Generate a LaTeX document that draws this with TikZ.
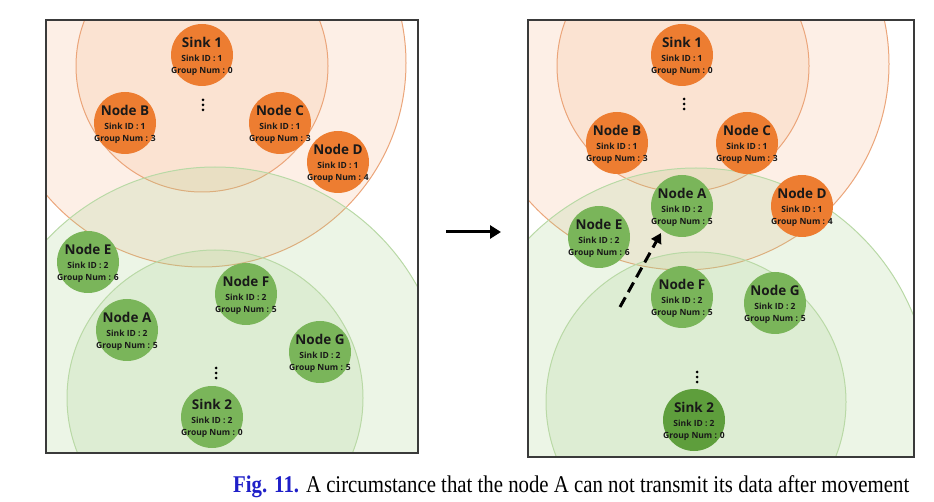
\documentclass[tikz,border=0pt]{standalone}
\usepackage{fontspec}
\usepackage{graphicx}
\setmainfont{Liberation Serif}
\newfontfamily\lblfont{Open Sans}
\usetikzlibrary{arrows.meta}
\definecolor{orfill}{HTML}{F4B183}
\definecolor{orline}{HTML}{EBA57A}
\definecolor{grfill}{HTML}{A9D18E}
\definecolor{grline}{HTML}{B9D9A6}
\definecolor{ornode}{HTML}{ED7D31}
\definecolor{grnode}{HTML}{7AB55A}
\definecolor{grnodedark}{HTML}{5E9E3C}
\definecolor{figblue}{HTML}{1F1FC8}
\definecolor{framegray}{HTML}{3A3A3A}
\newcommand\nlbl[3]{\fontsize{13.5}{14}\selectfont #1\\[2.5pt]\fontsize{8.5}{10.5}\selectfont Sink ID : #2\\\fontsize{8.5}{10.5}\selectfont Group Num : #3}
\begin{document}
\begin{tikzpicture}[x=1pt,y=-1pt,
  orrange/.style={fill=orfill, fill opacity=0.2, draw=orline, line width=1},
  grrange/.style={fill=grfill, fill opacity=0.22, draw=grline, line width=1},
  ornd/.style={circle, fill=ornode, minimum size=62pt, inner sep=0pt},
  grnd/.style={circle, fill=grnode, minimum size=62pt, inner sep=0pt},
  grnddark/.style={circle, fill=grnodedark, minimum size=62pt, inner sep=0pt},
  lbl/.style={align=center, inner sep=0pt, yshift=-1.5pt, text=black!90, font=\lblfont\bfseries},
  panel/.style={draw=framegray, line width=1.1},
  dotmark/.style={fill=black}]
\useasboundingbox (0,0) rectangle (934,502);

% ---------- left panel ----------
\begin{scope}
  \clip (46,20) rectangle (418,453);
  \path[orrange] (202,63) circle (204);
  \path[orrange] (202,66) circle (126);
  \path[grrange] (215,398) circle (231);
  \path[grrange] (215,398) circle (148);
\end{scope}
\draw[panel] (46,20) rectangle (418,453);

\node[ornd] (S1L) at (202,55) {};
\node[lbl] (S1Lt) at (S1L) {\nlbl{Sink 1}{1}{0}};
\node[ornd] (BL) at (125,123) {};
\node[lbl] (BLt) at (BL) {\nlbl{Node B}{1}{3}};
\node[ornd] (CL) at (280,123) {};
\node[lbl] (CLt) at (CL) {\nlbl{Node C}{1}{3}};
\node[ornd] (DL) at (338,162) {};
\node[lbl] (DLt) at (DL) {\nlbl{Node D}{1}{4}};
\node[grnd] (EL) at (88,262) {};
\node[lbl] (ELt) at (EL) {\nlbl{Node E}{2}{6}};
\node[grnd] (FL) at (246,294) {};
\node[lbl] (FLt) at (FL) {\nlbl{Node F}{2}{5}};
\node[grnd] (AL) at (127,330) {};
\node[lbl] (ALt) at (AL) {\nlbl{Node A}{2}{5}};
\node[grnd] (GL) at (320,352) {};
\node[lbl] (GLt) at (GL) {\nlbl{Node G}{2}{5}};
\node[grnd] (S2L) at (212,417) {};
\node[lbl] (S2Lt) at (S2L) {\nlbl{Sink 2}{2}{0}};
\foreach \k in {-5,0,5} {
  \fill[dotmark] (203,105+\k) circle (1.5);
  \fill[dotmark] (216,373+\k) circle (1.5);
}

% ---------- arrow between panels ----------
\coordinate (arrS) at (446,232);
\coordinate (arrE) at (501,232);
\draw[line width=3, -{Triangle[length=11pt,width=13pt]}] (arrS) -- (arrE);

% ---------- right panel ----------
\begin{scope}
  \clip (528,20) rectangle (914,457);
  \path[orrange] (683,64) circle (206);
  \path[orrange] (683,66) circle (126);
  \path[grrange] (696,402) circle (234);
  \path[grrange] (696,402) circle (150);
\end{scope}
\draw[panel] (528,20) rectangle (914,457);

\node[ornd] (S1R) at (682,55) {};
\node[lbl] (S1Rt) at (S1R) {\nlbl{Sink 1}{1}{0}};
\node[ornd] (BR) at (617,143) {};
\node[lbl] (BRt) at (BR) {\nlbl{Node B}{1}{3}};
\node[ornd] (CR) at (747,143) {};
\node[lbl] (CRt) at (CR) {\nlbl{Node C}{1}{3}};
\node[grnd] (AR) at (682,206) {};
\node[lbl] (ARt) at (AR) {\nlbl{Node A}{2}{5}};
\node[ornd] (DR) at (802,206) {};
\node[lbl] (DRt) at (DR) {\nlbl{Node D}{1}{4}};
\node[grnd] (ER) at (599,237) {};
\node[lbl] (ERt) at (ER) {\nlbl{Node E}{2}{6}};
\node[grnd] (FR) at (682,297) {};
\node[lbl] (FRt) at (FR) {\nlbl{Node F}{2}{5}};
\node[grnd] (GR) at (775,303) {};
\node[lbl] (GRt) at (GR) {\nlbl{Node G}{2}{5}};
\node[grnddark] (S2R) at (694,420) {};
\node[lbl] (S2Rt) at (S2R) {\nlbl{Sink 2}{2}{0}};
\foreach \k in {-5,0,5} {
  \fill[dotmark] (684,104+\k) circle (1.5);
  \fill[dotmark] (697,377+\k) circle (1.5);
}

% movement of node A
\coordinate (mvS) at (620,307);
\coordinate (mvE) at (661,233);
\draw[line width=3, dash pattern=on 11pt off 6pt, -{Triangle[length=10pt,width=11pt]}] (mvS) -- (mvE);

% ---------- caption ----------
\node[anchor=base west, inner sep=0pt] (cap) at (233,492)
  {\resizebox{676pt}{\height}{\fontsize{24}{26}\selectfont\textcolor{figblue}{\bfseries Fig. 11.} A circumstance that the node A can not transmit its data after movement}};
\end{tikzpicture}
\end{document}
